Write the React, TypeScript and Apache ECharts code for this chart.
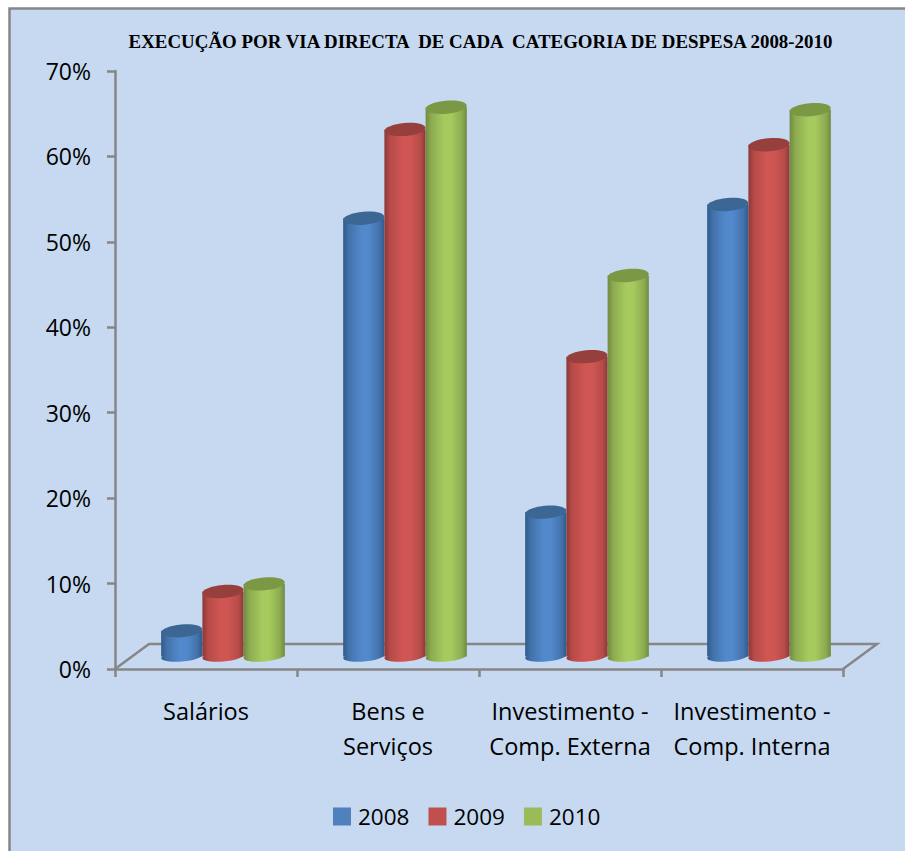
import React, { useEffect, useRef } from "react";
import * as echarts from "echarts";

const titleText = "EXECUÇÃO POR VIA DIRECTA  DE CADA  CATEGORIA DE DESPESA 2008-2010";
const categories = ["Salários", "Bens e\nServiços", "Investimento -\nComp. Externa", "Investimento -\nComp. Interna"];
const years = ["2008", "2009", "2010"];
const values2008 = [3.0, 51.3, 16.9, 52.9];
const values2009 = [7.6, 61.7, 35.1, 59.9];
const values2010 = [8.5, 64.3, 44.6, 64.0];
const yearValues = [values2008, values2009, values2010];

const legendColors = ["#4f81bd", "#c0504d", "#9bbb59"];
const edgeColors = ["#2f5a8c", "#8c3836", "#708a41"];
const midColors = ["#4372ab", "#b64b48", "#8dab50"];
const lightColors = ["#5289cc", "#d05653", "#a6ca5e"];
const topColors = ["#3c6795", "#973f3c", "#7b9845"];

const FONT = "'Open Sans', sans-serif";
const GREY = "#868686";
const DEPTH_X = 34;
const DEPTH_Y = 25;

function cylinderSeries(i: number) {
  return {
    type: "custom",
    name: years[i],
    coordinateSystem: "cartesian2d",
    clip: false,
    z: 3 + i,
    itemStyle: { color: legendColors[i] },
    encode: { x: 0, y: 1 },
    data: yearValues[i].map((v, c) => [c, v]),
    renderItem: (_p: any, api: any) => {
      const cat = api.value(0);
      const top = api.coord([cat, api.value(1)]);
      const base = api.coord([cat, 0]);
      const band = api.size([1, 0])[0];
      const w = band * 0.2265;
      const rx = w / 2;
      const ry = 6.5;
      const cx = top[0] + DEPTH_X / 2 + (i - 1) * w;
      const cyTop = top[1] - DEPTH_Y / 2;
      const cyBase = base[1] - DEPTH_Y / 2;
      const fill = {
        type: "linear", x: 0, y: 0, x2: 1, y2: 0,
        colorStops: [
          { offset: 0, color: edgeColors[i] },
          { offset: 0.14, color: midColors[i] },
          { offset: 0.45, color: lightColors[i] },
          { offset: 0.62, color: lightColors[i] },
          { offset: 0.88, color: midColors[i] },
          { offset: 1, color: edgeColors[i] },
        ],
      };
      const tilt = 0.085;
      return {
        type: "group",
        children: [
          { type: "ellipse", x: cx, y: cyBase, rotation: tilt, shape: { cx: 0, cy: 0, rx, ry: 5 }, style: { fill } },
          { type: "rect", shape: { x: cx - rx, y: cyTop, width: w, height: cyBase - cyTop }, style: { fill } },
          { type: "ellipse", x: cx, y: cyTop, rotation: tilt, shape: { cx: 0, cy: 0, rx, ry }, style: { fill: topColors[i] } },
        ],
      };
    },
  };
}

const floorSeries = {
  type: "custom",
  coordinateSystem: "cartesian2d",
  clip: false,
  silent: true,
  z: 1,
  data: [[0, 0]],
  encode: { x: 0, y: 1 },
  renderItem: (p: any) => {
    const { x, y, width, height } = p.coordSys;
    const bottom = y + height;
    return {
      type: "polyline",
      shape: {
        points: [
          [x, bottom],
          [x + DEPTH_X, bottom - DEPTH_Y],
          [x + width + DEPTH_X, bottom - DEPTH_Y],
          [x + width, bottom],
        ],
      },
      style: { stroke: GREY, lineWidth: 2.5, fill: "none" },
    };
  },
};

export default function App() {
  const ref = useRef<HTMLDivElement>(null);
  useEffect(() => {
    document.body.style.margin = "0";
    const chart = echarts.init(ref.current!, undefined, { renderer: "svg" });
    chart.setOption({
      animation: false,
      backgroundColor: "#ffffff",
      graphic: [
        {
          type: "rect",
          z: -10,
          silent: true,
          shape: { x: 9.5, y: 8.5, width: 930, height: 880 },
          style: { fill: "#c6d9f1", stroke: GREY, lineWidth: 2.5 },
        },
      ],
      title: {
        text: titleText,
        left: 475.5,
        top: 27,
        textAlign: "center",
        textStyle: { fontFamily: "'Liberation Serif', serif", fontSize: 18.9, fontWeight: "bold", color: "#000" },
      },
      grid: { left: 115, right: 62, top: 71, bottom: 182 },
      legend: {
        data: years,
        left: 328,
        top: 800,
        itemWidth: 18,
        itemHeight: 18,
        itemGap: 19,
        icon: "rect",
        textStyle: { fontFamily: FONT, fontSize: 22.5, color: "#000", padding: [0, 0, 0, 2] },
      },
      xAxis: {
        type: "category",
        data: categories,
        axisLine: { lineStyle: { color: GREY, width: 2.5 } },
        axisTick: { show: true, length: 8, alignWithLabel: false, lineStyle: { color: GREY, width: 2.5 } },
        axisLabel: { fontFamily: FONT, fontSize: 23.5, color: "#000", lineHeight: 35, margin: 24, interval: 0 },
      },
      yAxis: {
        type: "value",
        min: 0,
        max: 70,
        interval: 10,
        axisLine: { show: true, lineStyle: { color: GREY, width: 2.5 } },
        axisTick: { show: true, length: 8, lineStyle: { color: GREY, width: 2.5 } },
        splitLine: { show: false },
        axisLabel: { fontFamily: FONT, fontSize: 23, color: "#000", margin: 24, formatter: "{value}%" },
      },
      series: [floorSeries, cylinderSeries(0), cylinderSeries(1), cylinderSeries(2)],
    });
    return () => chart.dispose();
  }, []);
  return <div ref={ref} style={{ width: 905, height: 851 }} />;
}
